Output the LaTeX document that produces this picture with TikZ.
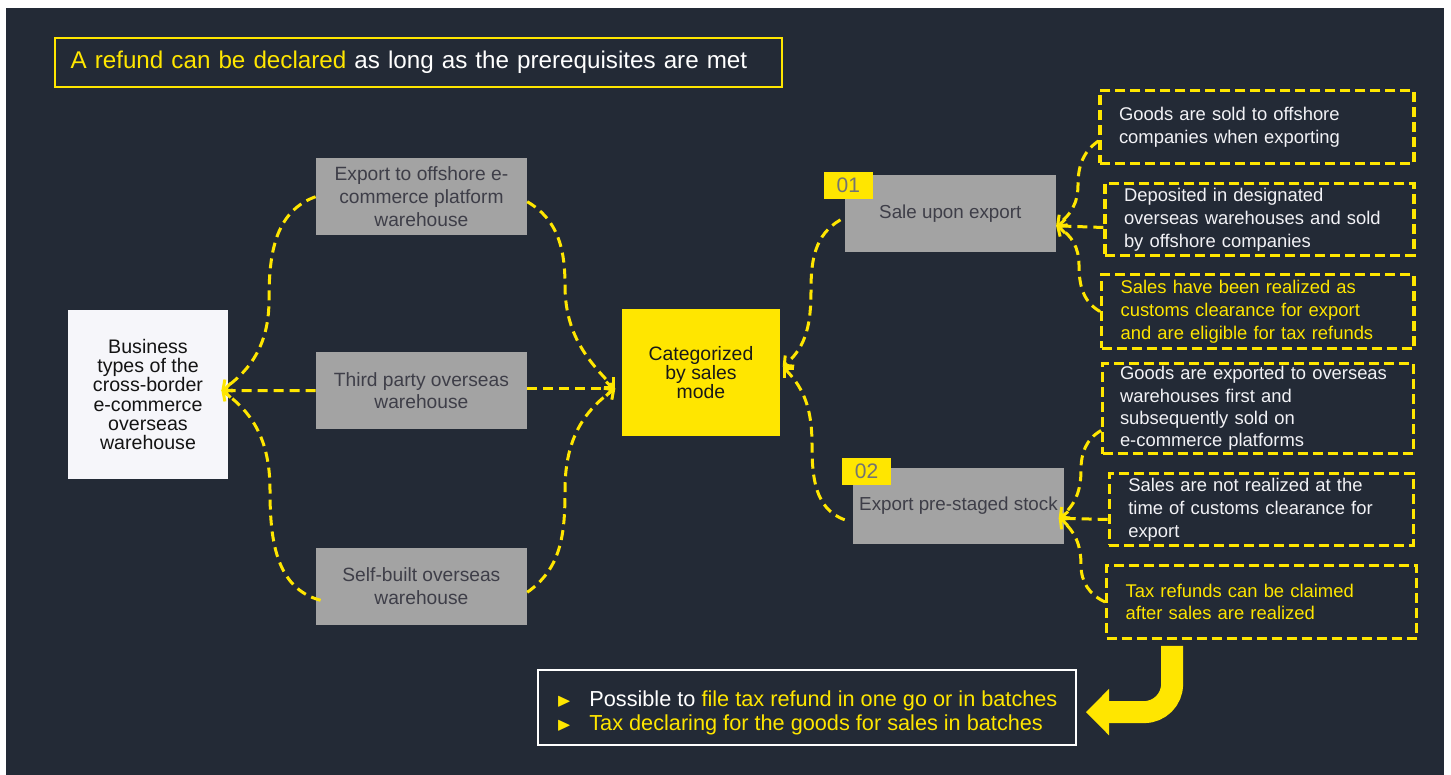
\documentclass[tikz,border=0pt]{standalone}
\usepackage{fontspec}
\setmainfont{Liberation Sans}
\usepackage{amssymb}
\usetikzlibrary{positioning,arrows.meta,calc}
\definecolor{eyyellow}{RGB}{255,230,0}
\definecolor{slate}{RGB}{35,42,54}
\definecolor{boxgray}{RGB}{163,163,163}
\definecolor{inkgray}{RGB}{62,62,72}
\definecolor{paper}{RGB}{246,246,250}
\definecolor{offwhite}{RGB}{242,242,246}
\newcommand{\tbul}{\textcolor{eyyellow}{\raisebox{0.2pt}{\fontsize{9.5}{9.5}\selectfont$\blacktriangleright$}}\hspace{9pt}}
\tikzset{
  box/.style  = {rectangle, inner sep=0pt, align=center,
                 minimum width=105.4pt, minimum height=38.3pt,
                 font=\fontsize{9.6}{11.3}\selectfont,
                 fill=boxgray, text=inkgray},
  hub/.style  = {box, fill=eyyellow, text=black!90,
                 minimum width=79.3pt, minimum height=63.6pt,
                 font=\fontsize{9.7}{9.4}\selectfont},
  tag/.style  = {rectangle, inner sep=0pt, fill=eyyellow, text=black!55,
                 minimum width=24.3pt, minimum height=13.3pt,
                 font=\fontsize{10.5}{12}\selectfont},
  hint/.style = {rectangle, draw=eyyellow, line width=1.6pt,
                 dash pattern=on 5pt off 2.5pt,
                 inner xsep=9.5pt, inner ysep=0pt, align=left,
                 font=\fontsize{9.2}{11.4}\selectfont, text=offwhite},
  arr/.style  = {draw=eyyellow, line width=1.5pt, dash pattern=on 5pt off 3pt,
                 -{Straight Barb[length=3.5pt,width=7pt]}}
}

\begin{document}
\begin{tikzpicture}[
      x=0.5pt, y=-0.5pt,                     % 1 Einheit = 1 Pixel der Vorlage
      banner/.style = {rectangle, draw=eyyellow, line width=1pt,
                       text width=347.7pt, inner xsep=8pt, inner ysep=0pt,
                       minimum height=24.5pt, align=left, text=white,
                       font=\fontsize{12.1}{14}\selectfont},
      note/.style   = {rectangle, draw=white, line width=1pt, inner sep=0pt,
                       minimum width=269pt, minimum height=37.5pt,
                       align=left, text=white,
                       font=\fontsize{10.85}{12.2}\selectfont},
      bigarr/.style = {draw=eyyellow, line width=11pt, rounded corners=14pt,
                       -{Triangle[length=11.5pt,width=22.5pt]}}
    ]
    % Hintergrund
    \fill[white] (0,0) rectangle (1451,775);
    \fill[slate] (6,8) rectangle (1444,775);
    \useasboundingbox (0,0) rectangle (1451,775);

    \node[banner] (head) at (418.3,62.5)
      {\textcolor{eyyellow}{A refund can be declared} as long as the prerequisites are met};

    \node[box, fill=paper, text=black!92, minimum width=80pt, minimum height=84.5pt,
          font=\fontsize{9.8}{9.6}\selectfont] (bus) at (148,394.5)
      {Business\\types of the\\cross-border\\e-commerce\\overseas\\warehouse};

    \node[box] (exp)   at (421.4,196.7) {Export to offshore e-\\commerce platform\\warehouse};
    \node[box] (third) at (421.4,390.7) {Third party overseas\\warehouse};
    \node[box] (self)  at (421.4,586.3) {Self-built overseas\\warehouse};

    \node[hub] (cat) at (701,372.7) {Categorized\\by sales\\mode};

    \node[box, font=\fontsize{9.4}{11.3}\selectfont] (sale) at (950.3,213.8) {Sale upon export};
    \node[box, font=\fontsize{9.4}{11.3}\selectfont] (pre)  at (958.5,505.8) {Export pre-staged stock};
    \node[tag] (one) at (848.3,185.5) {01};
    \node[tag] (two) at (866.5,471.7) {02};

    \node[hint, text width=138pt,   minimum height=36.2pt] (r1) at (1257,127)
      {Goods are sold to offshore\\companies when exporting};
    \node[hint, text width=135.5pt, minimum height=35.7pt] (r2) at (1259.5,219.5)
      {Deposited in designated\\overseas warehouses and sold\\by offshore companies};
    \node[hint, text width=137.2pt, minimum height=36.8pt, text=eyyellow] (r3) at (1257.8,311.5)
      {Sales have been realized as\\customs clearance for export\\and are eligible for tax refunds};
    \node[hint, text width=138pt, inner xsep=8.65pt, minimum height=45pt,
          font=\fontsize{9.2}{11.2}\selectfont] (r4) at (1258,408.5)
      {Goods are exported to overseas\\warehouses first and\\subsequently sold on\\e-commerce platforms};
    \node[hint, text width=133pt,   minimum height=35.7pt] (r5) at (1261.3,509.5)
      {Sales are not realized at the\\time of customs clearance for\\export};
    \node[hint, text width=136pt,   minimum height=36.2pt, text=eyyellow] (r6) at (1261.7,602)
      {Tax refunds can be claimed\\after sales are realized};

    \node[note] (note) at (807,707.5)
      {\rule{0pt}{13.5pt}\tbul Possible to \textcolor{eyyellow}{file tax refund in one go or in batches}\\
       \tbul\textcolor{eyyellow}{Tax declaring for the goods for sales in batches}};

    % Sammelpunkte der Pfeile
    \coordinate (busin)  at ([xshift=-3.5pt,yshift=2pt]bus.east);
    \coordinate (catin)  at ([xshift=-3pt,yshift=-8pt]cat.west);
    \coordinate (catout) at ([xshift=1pt,yshift=3pt]cat.east);
    \coordinate (salein) at ([yshift=-6pt]sale.east);
    \coordinate (prein)  at ([xshift=-2.8pt,yshift=-6.2pt]pre.east);

    \draw[arr] (exp.west) to[out=200,in=90] (269,300) to[out=-90,in=35] (busin);
    \draw[arr] (third.west) -- (busin);
    \draw[arr] ([xshift=2.5pt,yshift=-7pt]self.west) to[out=165,in=-90] (270,490)
               to[out=90,in=-35] (busin);

    \draw[arr] ([yshift=-2.5pt]exp.east) to[out=-30,in=90] (565,285) to[out=-90,in=135] (catin);
    \draw[arr] ([yshift=1pt]third.east) -- (catin);
    \draw[arr] ([yshift=-3pt]self.east) to[out=35,in=-90] (565,490) to[out=90,in=-145] (catin);

    \draw[arr] ([xshift=-2pt,yshift=-3pt]sale.west) to[out=210,in=90] (811,290)
               to[out=-90,in=40] (catout);
    \draw[arr] ([xshift=-4pt,yshift=-7pt]pre.west) to[out=160,in=-90] (812,445)
               to[out=90,in=-45] (catout);

    \draw[arr] ([yshift=-7pt]r1.west) to[out=215,in=90] (1078,185) to[out=-90,in=37] (salein);
    \draw[arr] ([yshift=-4pt]r2.west) -- (salein);
    \draw[arr] (r3.west) to[out=150,in=-90] (1079,265) to[out=90,in=-32] (salein);

    \draw[arr] ([yshift=-11pt]r4.west) to[out=210,in=90] (1081,470) to[out=-90,in=38] (prein);
    \draw[arr] ([yshift=-5pt]r5.west) -- (prein);
    \draw[arr] (r6.west) to[out=155,in=-90] (1081,565) to[out=90,in=-38] (prein);

    \draw[bigarr] ([xshift=-44.8pt,yshift=-3pt]r6.south) |- ([xshift=4.5pt,yshift=-2.3pt]note.east);
  \end{tikzpicture}
\end{document}
